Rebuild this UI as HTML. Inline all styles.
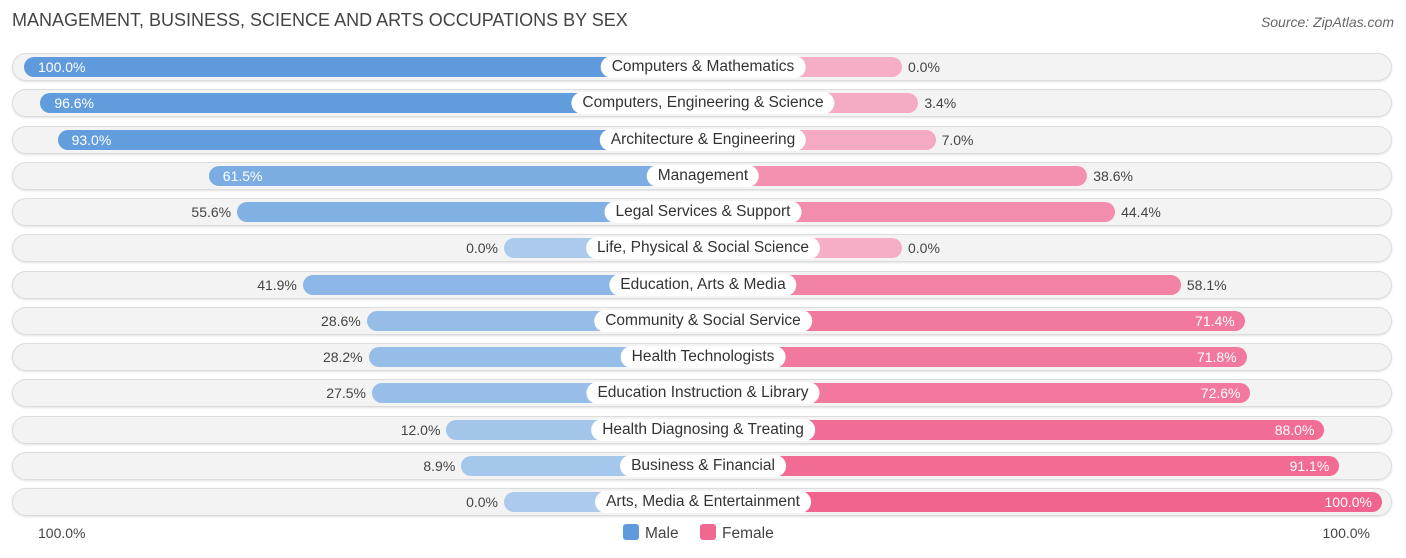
<!DOCTYPE html>
<html><head><meta charset="utf-8"><style>
body{margin:0;width:1406px;height:558px;background:#fff;font-family:"Liberation Sans",sans-serif;overflow:hidden;position:relative}
#title{position:absolute;left:12px;top:10px;font-size:18px;color:#444}
#source{position:absolute;right:12px;top:14px;font-size:14px;color:#666;font-style:italic}
.row{position:absolute;left:12px;width:1380px;height:28px;border-radius:14px;background:#f3f3f3;box-shadow:inset 0 0 0 1px #dcdcdc,0 1px 2px rgba(0,0,0,.12)}
.bar{position:absolute;height:20px;border-radius:10px}
.lbl{position:absolute;height:22px;line-height:22px;padding:0 11px;background:#fff;border-radius:11px;font-size:15.5px;color:#333;transform:translateX(-50%);white-space:nowrap}
.val{position:absolute;font-size:14px;line-height:20px}
.axl{position:absolute;top:525px;font-size:14px;color:#444}
.leg{position:absolute;top:524px;font-size:15.5px;color:#444}
.sw{display:inline-block;width:16px;height:16px;border-radius:3px;vertical-align:-2px;margin-right:6px}
</style></head><body>
<div id="title">MANAGEMENT, BUSINESS, SCIENCE AND ARTS OCCUPATIONS BY SEX</div>
<div id="source">Source: ZipAtlas.com</div>
<div id="chart"></div>
<div class="axl" style="left:38px">100.0%</div>
<div class="axl" style="right:36px">100.0%</div>
<div class="leg" style="left:623px"><span class="sw" style="background:#5f9bdc"></span>Male</div>
<div class="leg" style="left:700px"><span class="sw" style="background:#f06890"></span>Female</div>
<script>
const categories=["Computers & Mathematics","Computers, Engineering & Science","Architecture & Engineering","Management","Legal Services & Support","Life, Physical & Social Science","Education, Arts & Media","Community & Social Service","Health Technologists","Education Instruction & Library","Health Diagnosing & Treating","Business & Financial","Arts, Media & Entertainment"];
const maleValues=[100.0,96.6,93.0,61.5,55.6,0.0,41.9,28.6,28.2,27.5,12.0,8.9,0.0];
const femaleValues=[0.0,3.4,7.0,38.6,44.4,0.0,58.1,71.4,71.8,72.6,88.0,91.1,100.0];
const CX=703,OFF=199,SC=4.8,Y0=67,DY=36.25;
function xM(v){return CX-OFF-SC*v}
function xF(v){return CX+OFF+SC*v}
function mix(a,b,t){return 'rgb('+a.map((c,i)=>Math.round(c+(b[i]-c)*t)).join(',')+')'}
const chart=document.getElementById('chart');
categories.forEach((c,i)=>{
  const y=Y0+DY*i;
  const row=document.createElement('div');row.className='row';row.style.top=(y-14)+'px';
  
  
  chart.appendChild(row);
  const m=maleValues[i],f=femaleValues[i];
  const mb=document.createElement('div');mb.className='bar';
  mb.style.left=xM(m)+'px';mb.style.width=(CX-xM(m))+'px';mb.style.top=(y-10)+'px';
  mb.style.background=mix([172,203,236],[94,154,220],m/100);
  
  
  chart.appendChild(mb);
  const fb=document.createElement('div');fb.className='bar';
  fb.style.left=CX+'px';fb.style.width=(xF(f)-CX)+'px';fb.style.top=(y-10)+'px';
  fb.style.background=mix([246,174,198],[240,100,142],f/100);
  
  
  chart.appendChild(fb);
  const mv=document.createElement('div');mv.className='val';mv.style.top=(y-10)+'px';
  mv.textContent=m.toFixed(1)+'%';
  if(m>=60){mv.style.left=(xM(m)+14)+'px';mv.style.color='#fff';}
  else{mv.style.right=(1406-xM(m)+6)+'px';mv.style.color='#444';}
  
  
  chart.appendChild(mv);
  const fv=document.createElement('div');fv.className='val';fv.style.top=(y-10)+'px';
  fv.textContent=f.toFixed(1)+'%';
  if(f>=60){fv.style.right=(1406-xF(f)+10)+'px';fv.style.color='#fff';}
  else{fv.style.left=(xF(f)+6)+'px';fv.style.color='#444';}
  
  
  chart.appendChild(fv);
  const l=document.createElement('div');l.className='lbl';l.style.left=CX+'px';l.style.top=(y-11)+'px';
  l.textContent=c;
  
  
  chart.appendChild(l);
});
</script>
</body></html>
